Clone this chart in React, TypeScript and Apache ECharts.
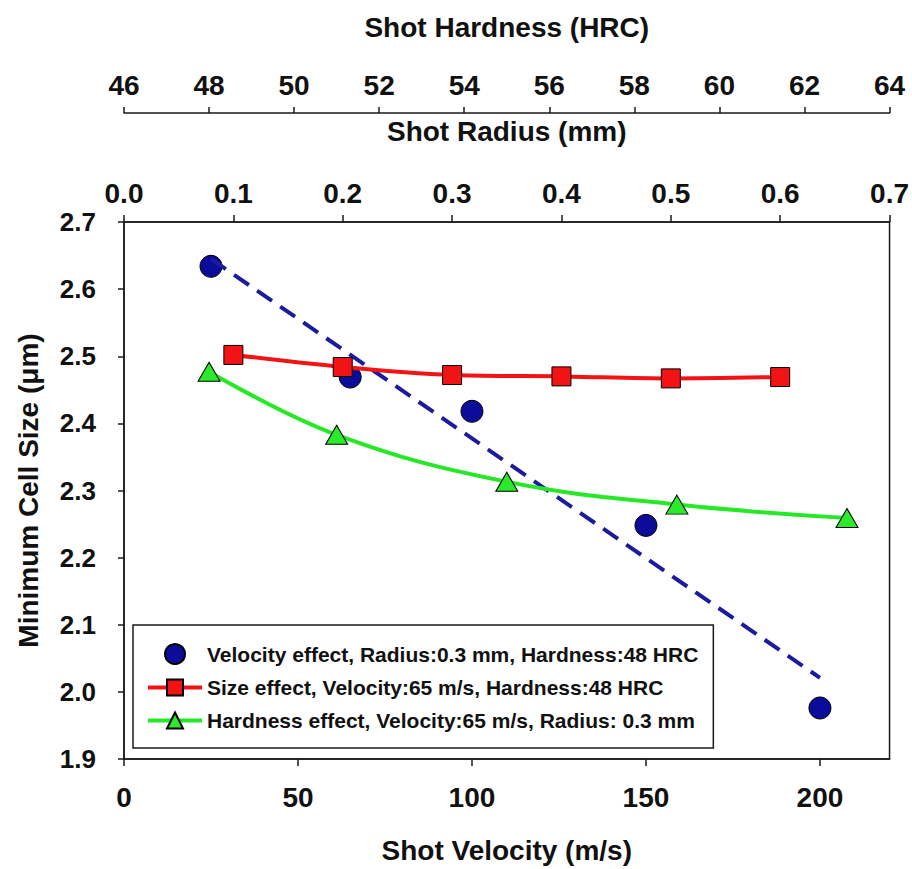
import React, { useEffect, useRef } from "react";
import * as echarts from "echarts";

// ---- data ----
const velocity = [25, 65, 100, 150, 200];
const velocityCell = [2.634, 2.469, 2.418, 2.248, 1.976];
const fitVelocity = [25, 200];
const fitCell = [2.645, 2.021];
const radius = [0.1, 0.2, 0.3, 0.4, 0.5, 0.6];
const radiusCell = [2.502, 2.484, 2.472, 2.47, 2.467, 2.469];
const hardness = [48, 51, 55, 59, 63];
const hardnessCell = [2.477, 2.383, 2.313, 2.279, 2.259];

const velocityTicks = [0, 50, 100, 150, 200];
const seriesNames = [
  "Velocity effect, Radius:0.3 mm, Hardness:48 HRC",
  "Size effect, Velocity:65 m/s, Hardness:48 HRC",
  "Hardness effect, Velocity:65 m/s, Radius: 0.3 mm",
];

const FONT = "'Liberation Sans', Arial, Helvetica, sans-serif";
const AXIS_COLOR = "#1a1a1a";

const zip = (xs: number[], ys: number[]) => xs.map((x, i) => [x, ys[i]]);

export default function App() {
  const ref = useRef<HTMLDivElement>(null);

  useEffect(() => {
    if (!ref.current) return;
    const chart = echarts.init(ref.current, undefined, { renderer: "svg" });

    const axisLine = { show: true, lineStyle: { color: AXIS_COLOR, width: 1.5 } };
    const nameStyle = { fontFamily: FONT, fontWeight: "bold" as const, fontSize: 28, color: "#111" };
    const labelStyle = (size: number) => ({
      fontFamily: FONT,
      fontWeight: "bold" as const,
      fontSize: size,
      color: "#111",
    });

    chart.setOption({
      animation: false,
      backgroundColor: "#ffffff",
      grid: {
        left: 124,
        right: 22,
        top: 222,
        bottom: 109,
        show: true,
        borderColor: AXIS_COLOR,
        borderWidth: 1.5,
        backgroundColor: "transparent",
      },
      xAxis: [
        {
          type: "value",
          position: "bottom",
          min: 0,
          max: 220,
          interval: 50,
          axisLine,
          axisTick: { show: true, inside: false, length: 7, lineStyle: { color: AXIS_COLOR, width: 1.5 }, customValues: velocityTicks },
          axisLabel: { ...labelStyle(28), margin: 24, customValues: velocityTicks },
          splitLine: { show: false },
          name: "Shot Velocity (m/s)",
          nameLocation: "middle",
          nameGap: 77,
          nameTextStyle: nameStyle,
        },
        {
          type: "value",
          position: "top",
          min: 0,
          max: 0.7,
          interval: 0.1,
          axisLine,
          axisTick: { show: true, inside: false, length: 7, lineStyle: { color: AXIS_COLOR, width: 1.5 } },
          axisLabel: { ...labelStyle(28), margin: 15, formatter: (v: number) => v.toFixed(1) },
          splitLine: { show: false },
          name: "Shot Radius (mm)",
          nameLocation: "middle",
          nameGap: 77,
          nameTextStyle: nameStyle,
        },
        {
          type: "value",
          position: "top",
          offset: 109,
          min: 46,
          max: 64,
          interval: 2,
          axisLine,
          axisTick: { show: true, inside: false, length: 6, lineStyle: { color: AXIS_COLOR, width: 1.5 } },
          axisLabel: { ...labelStyle(28), margin: 14 },
          splitLine: { show: false },
          name: "Shot Hardness (HRC)",
          nameLocation: "middle",
          nameGap: 72,
          nameTextStyle: nameStyle,
        },
      ],
      yAxis: [
        {
          type: "value",
          min: 1.9,
          max: 2.7,
          interval: 0.1,
          axisLine,
          axisTick: { show: true, inside: false, length: 6, lineStyle: { color: AXIS_COLOR, width: 1.5 } },
          axisLabel: { ...labelStyle(26), margin: 28, formatter: (v: number) => v.toFixed(1) },
          splitLine: { show: false },
          name: "Minimum Cell Size (\u03bcm)",
          nameLocation: "middle",
          nameGap: 82,
          nameTextStyle: nameStyle,
        },
      ],
      legend: {
        orient: "vertical",
        left: 133,
        top: 625,
        padding: [18, 15, 17, 13],
        itemGap: 12,
        itemWidth: 54,
        itemHeight: 20,
        backgroundColor: "#ffffff",
        borderColor: AXIS_COLOR,
        borderWidth: 1.5,
        borderRadius: 0,
        textStyle: { fontFamily: FONT, fontWeight: "bold", fontSize: 21, color: "#111" },
        data: [
          { name: seriesNames[0] },
          { name: seriesNames[1], lineStyle: { width: 4 } },
          { name: seriesNames[2], lineStyle: { width: 4 } },
        ],
        selectedMode: false,
      },
      series: [
        {
          name: seriesNames[0],
          type: "scatter",
          xAxisIndex: 0,
          yAxisIndex: 0,
          symbol: "circle",
          symbolSize: 22,
          itemStyle: { color: "#0c0c9a", borderColor: "#000", borderWidth: 1, opacity: 1 },
          data: zip(velocity, velocityCell),
          z: 3,
        },
        {
          name: "fit",
          type: "line",
          xAxisIndex: 0,
          yAxisIndex: 0,
          showSymbol: false,
          symbol: "none",
          lineStyle: { color: "#1b1ba0", width: 4, type: [18, 10] },
          data: zip(fitVelocity, fitCell),
          z: 4,
        },
        {
          name: seriesNames[1],
          type: "line",
          xAxisIndex: 1,
          yAxisIndex: 0,
          smooth: 0.3,
          symbol: "rect",
          symbolSize: 19,
          lineStyle: { color: "#f21414", width: 4 },
          itemStyle: { color: "#f21414", borderColor: "#000", borderWidth: 1 },
          data: zip(radius, radiusCell),
          z: 5,
        },
        {
          name: seriesNames[2],
          type: "line",
          xAxisIndex: 2,
          yAxisIndex: 0,
          smooth: 0.4,
          symbol: "triangle",
          symbolSize: [22, 19],
          lineStyle: { color: "#26e826", width: 4 },
          itemStyle: { color: "#2bea2b", borderColor: "#000", borderWidth: 1 },
          data: zip(hardness, hardnessCell),
          z: 5,
        },
      ],
    });

    return () => chart.dispose();
  }, []);

  return (
    <div
      ref={ref}
      style={{ position: "fixed", left: 0, top: 0, width: 912, height: 869, background: "#fff" }}
    />
  );
}
